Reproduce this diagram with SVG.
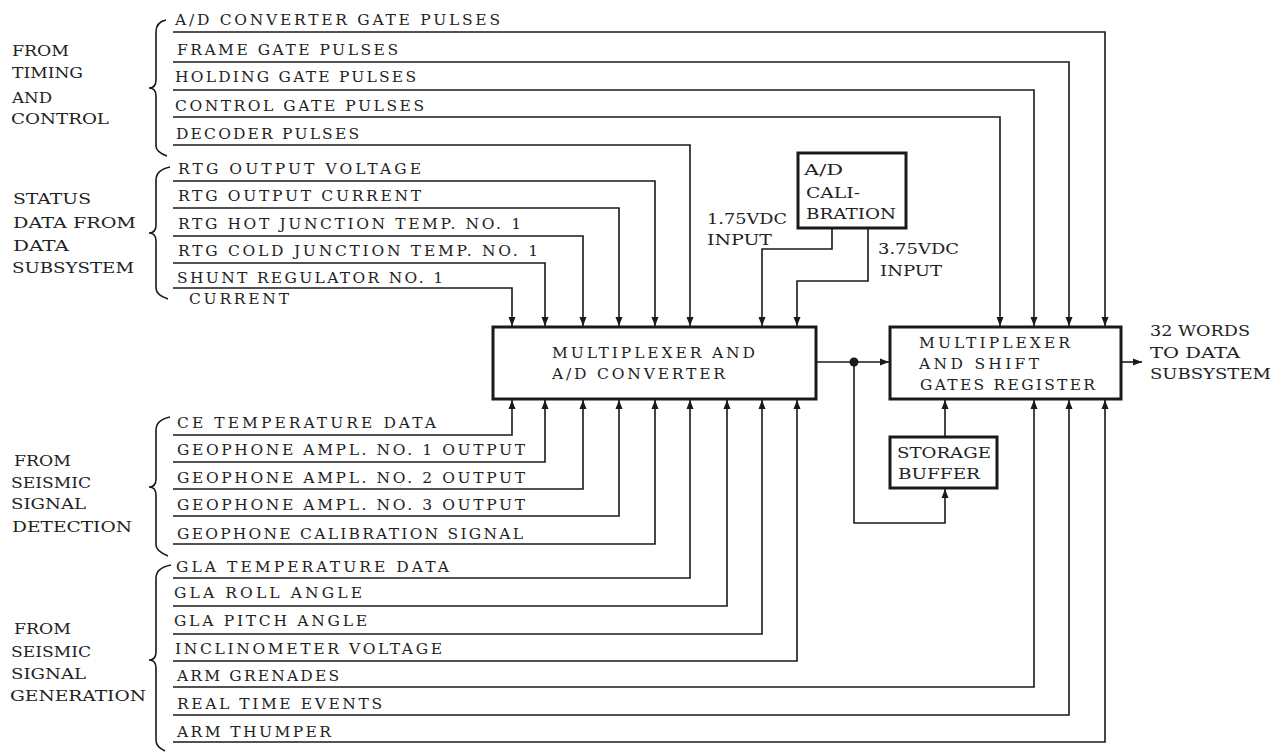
<svg xmlns="http://www.w3.org/2000/svg" width="1285" height="753" viewBox="0 0 1285 753">
<style>
  text { font-family: "DejaVu Serif", "Liberation Serif", serif; font-size: 15.5px; fill: #222; }
  .box { fill: #fff; stroke: #1a1a1a; stroke-width: 3; }
  .arr { fill: none; stroke: #1a1a1a; stroke-width: 1.6; marker-end: url(#ah); }
  .brace { fill: none; stroke: #1a1a1a; stroke-width: 1.6; }
</style>
<defs>
  <marker id="ah" markerUnits="userSpaceOnUse" markerWidth="10" markerHeight="10" viewBox="0 0 10 10" refX="9" refY="5" orient="auto">
    <path d="M0,1.5 L9,5 L0,8.5 z" fill="#1a1a1a"/>
  </marker>
</defs>
<rect width="1285" height="753" fill="#fff"/>

<g id="group-labels">
  <g id="timing-control">
    <path class="brace" d="M166 20 Q156 22 156 32 L156 80 Q156 88 149 88 Q156 88 156 96 L156 146 Q156 152 167 156"/>
    <text x="12" y="56" textLength="57" lengthAdjust="spacingAndGlyphs">FROM</text>
    <text x="12" y="78" textLength="71" lengthAdjust="spacingAndGlyphs">TIMING</text>
    <text x="12" y="103" textLength="40" lengthAdjust="spacingAndGlyphs">AND</text>
    <text x="11" y="124" textLength="98" lengthAdjust="spacingAndGlyphs">CONTROL</text>
  </g>
  <g id="status-data">
    <path class="brace" d="M170 167 Q156 170 156 180 L156 225 Q156 233 149 233 Q156 233 156 241 L156 288 Q156 295 168 299"/>
    <text x="13" y="204" textLength="78" lengthAdjust="spacingAndGlyphs">STATUS</text>
    <text x="13" y="228" textLength="123" lengthAdjust="spacingAndGlyphs">DATA FROM</text>
    <text x="13" y="251" textLength="56" lengthAdjust="spacingAndGlyphs">DATA</text>
    <text x="12" y="273" textLength="122" lengthAdjust="spacingAndGlyphs">SUBSYSTEM</text>
  </g>
  <g id="seismic-detection">
    <path class="brace" d="M170 417 Q156 420 156 430 L156 479 Q156 487 149 487 Q156 487 156 495 L156 545 Q156 551 168 556"/>
    <text x="14" y="466" textLength="57" lengthAdjust="spacingAndGlyphs">FROM</text>
    <text x="11" y="488" textLength="80" lengthAdjust="spacingAndGlyphs">SEISMIC</text>
    <text x="11" y="509" textLength="75" lengthAdjust="spacingAndGlyphs">SIGNAL</text>
    <text x="12" y="532" textLength="120" lengthAdjust="spacingAndGlyphs">DETECTION</text>
  </g>
  <g id="seismic-generation">
    <path class="brace" d="M171 565 Q156 568 156 578 L156 652 Q156 660 149 660 Q156 660 156 668 L156 740 Q156 747 165 751"/>
    <text x="14" y="634" textLength="57" lengthAdjust="spacingAndGlyphs">FROM</text>
    <text x="11" y="657" textLength="80" lengthAdjust="spacingAndGlyphs">SEISMIC</text>
    <text x="11" y="679" textLength="75" lengthAdjust="spacingAndGlyphs">SIGNAL</text>
    <text x="10" y="701" textLength="136" lengthAdjust="spacingAndGlyphs">GENERATION</text>
  </g>
</g>

<g id="signal-labels">
  <text x="175" y="25" textLength="325" lengthAdjust="spacing">A/D CONVERTER GATE PULSES</text>
  <text x="177" y="55" textLength="221" lengthAdjust="spacing">FRAME GATE PULSES</text>
  <text x="175" y="82" textLength="241" lengthAdjust="spacing">HOLDING GATE PULSES</text>
  <text x="175" y="111" textLength="249" lengthAdjust="spacing">CONTROL GATE PULSES</text>
  <text x="176" y="139" textLength="183" lengthAdjust="spacing">DECODER PULSES</text>
  <text x="178" y="174" textLength="243" lengthAdjust="spacing">RTG OUTPUT VOLTAGE</text>
  <text x="178" y="201" textLength="243" lengthAdjust="spacing">RTG OUTPUT CURRENT</text>
  <text x="178" y="229" textLength="343" lengthAdjust="spacing">RTG HOT JUNCTION TEMP. NO. 1</text>
  <text x="178" y="256" textLength="360" lengthAdjust="spacing">RTG COLD JUNCTION TEMP. NO. 1</text>
  <text x="177" y="283" textLength="266" lengthAdjust="spacing">SHUNT REGULATOR NO. 1</text>
  <text x="189" y="304" textLength="100" lengthAdjust="spacing">CURRENT</text>
  <text x="177" y="428" textLength="259" lengthAdjust="spacing">CE TEMPERATURE DATA</text>
  <text x="177" y="455" textLength="348" lengthAdjust="spacing">GEOPHONE AMPL. NO. 1 OUTPUT</text>
  <text x="177" y="483" textLength="348" lengthAdjust="spacing">GEOPHONE AMPL. NO. 2 OUTPUT</text>
  <text x="177" y="510" textLength="348" lengthAdjust="spacing">GEOPHONE AMPL. NO. 3 OUTPUT</text>
  <text x="177" y="539" textLength="346" lengthAdjust="spacing">GEOPHONE CALIBRATION SIGNAL</text>
  <text x="176" y="572" textLength="273" lengthAdjust="spacing">GLA TEMPERATURE DATA</text>
  <text x="174" y="598" textLength="188" lengthAdjust="spacing">GLA ROLL ANGLE</text>
  <text x="174" y="626" textLength="193" lengthAdjust="spacing">GLA PITCH ANGLE</text>
  <text x="175" y="654" textLength="267" lengthAdjust="spacing">INCLINOMETER VOLTAGE</text>
  <text x="177" y="681" textLength="162" lengthAdjust="spacing">ARM GRENADES</text>
  <text x="177" y="709" textLength="205" lengthAdjust="spacing">REAL TIME EVENTS</text>
  <text x="177" y="737" textLength="154" lengthAdjust="spacing">ARM THUMPER</text>
  <text x="707" y="224" textLength="80" lengthAdjust="spacingAndGlyphs">1.75VDC</text>
  <text x="707" y="245" textLength="65" lengthAdjust="spacingAndGlyphs">INPUT</text>
  <text x="878" y="254" textLength="81" lengthAdjust="spacingAndGlyphs">3.75VDC</text>
  <text x="880" y="276" textLength="62" lengthAdjust="spacingAndGlyphs">INPUT</text>
  <text x="1150" y="336" textLength="100" lengthAdjust="spacingAndGlyphs">32 WORDS</text>
  <text x="1150" y="358" textLength="90" lengthAdjust="spacingAndGlyphs">TO DATA</text>
  <text x="1150" y="379" textLength="121" lengthAdjust="spacingAndGlyphs">SUBSYSTEM</text>
</g>

<g id="connectors">
  <path class="arr" d="M173 32 H1105 V326"/>
  <path class="arr" d="M173 62 H1069 V326"/>
  <path class="arr" d="M173 90 H1034 V326"/>
  <path class="arr" d="M173 117 H1000 V326"/>
  <path class="arr" d="M173 145 H690 V326"/>
  <path class="arr" d="M173 181 H655 V326"/>
  <path class="arr" d="M173 208 H619 V326"/>
  <path class="arr" d="M173 236 H583 V326"/>
  <path class="arr" d="M173 263 H545 V326"/>
  <path class="arr" d="M173 288 H512 V326"/>
  <path class="arr" d="M832 229 V249 H762 V326"/>
  <path class="arr" d="M868 229 V281 H797 V326"/>
  <path class="arr" d="M173 435 H512 V400"/>
  <path class="arr" d="M173 462 H545 V400"/>
  <path class="arr" d="M173 489 H583 V400"/>
  <path class="arr" d="M173 516 H619 V400"/>
  <path class="arr" d="M173 544 H655 V400"/>
  <path class="arr" d="M173 578 H690 V400"/>
  <path class="arr" d="M173 606 H727 V400"/>
  <path class="arr" d="M173 634 H762 V400"/>
  <path class="arr" d="M173 661 H797 V400"/>
  <path class="arr" d="M173 687 H1034 V400"/>
  <path class="arr" d="M173 715 H1069 V400"/>
  <path class="arr" d="M173 742 H1105 V400"/>
  <path class="arr" d="M816 362 H889"/>
  <path class="arr" d="M854 362 V523 H945 V489"/>
  <path class="arr" d="M945 436 V400"/>
  <path class="arr" d="M1121 362 H1142"/>
  <circle cx="854" cy="362" r="4.5" fill="#1a1a1a"/>
</g>

<g id="mux-ad-converter">
  <rect class="box" x="493" y="327" width="323" height="72"/>
  <text x="552" y="358" textLength="203" lengthAdjust="spacing">MULTIPLEXER AND</text>
  <text x="552" y="379" textLength="173" lengthAdjust="spacing">A/D CONVERTER</text>
</g>
<g id="mux-shift-register">
  <rect class="box" x="890" y="327" width="231" height="72"/>
  <text x="919" y="348" textLength="151" lengthAdjust="spacing">MULTIPLEXER</text>
  <text x="919" y="369" textLength="120" lengthAdjust="spacing">AND SHIFT</text>
  <text x="920" y="390" textLength="175" lengthAdjust="spacing">GATES REGISTER</text>
</g>
<g id="storage-buffer">
  <rect class="box" x="890" y="437" width="107" height="51"/>
  <text x="897" y="458" textLength="94" lengthAdjust="spacingAndGlyphs">STORAGE</text>
  <text x="898" y="479" textLength="82" lengthAdjust="spacingAndGlyphs">BUFFER</text>
</g>
<g id="ad-calibration">
  <rect class="box" x="798" y="153" width="108" height="75"/>
  <text x="804" y="175" textLength="39" lengthAdjust="spacingAndGlyphs">A/D</text>
  <text x="806" y="198" textLength="54" lengthAdjust="spacingAndGlyphs">CALI-</text>
  <text x="806" y="219" textLength="90" lengthAdjust="spacingAndGlyphs">BRATION</text>
</g>
</svg>
